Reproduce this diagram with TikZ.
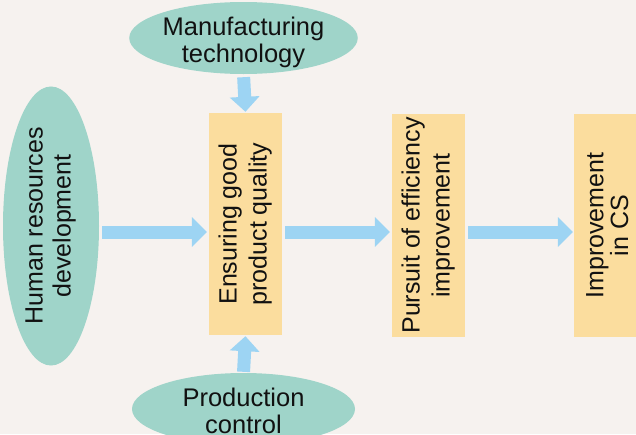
\documentclass[tikz,border=0pt]{standalone}
\usepackage{fontspec}
\setmainfont{Liberation Sans}
\usetikzlibrary{shapes.geometric,arrows.meta}
\definecolor{bgc}{HTML}{F6F2EF}
\definecolor{ellc}{HTML}{9FD4C9}
\definecolor{boxc}{HTML}{FBDD9E}
\definecolor{arrc}{HTML}{9DD4F3}
\definecolor{txtc}{HTML}{111111}
\newcommand{\vtext}[2]{\rotatebox{90}{\fontsize{25}{#1}\selectfont\begin{tabular}{@{}c@{}}#2\end{tabular}}}
\newcommand{\htext}[1]{\raisebox{-12pt}[0pt][0pt]{\fontsize{25.5}{26}\selectfont\begin{tabular}{@{}c@{}}#1\end{tabular}}}
\begin{document}
\begin{tikzpicture}[x=1pt,y=1pt,
  ell/.style={ellipse, fill=ellc, inner sep=0pt, text=txtc},
  hell/.style={ell, minimum width=223pt, minimum height=72pt},
  stagebox/.style={rectangle, fill=boxc, inner sep=0pt, minimum width=73pt, minimum height=222pt, text=txtc},
  blockarrow/.style={draw=arrc, line width=13pt, -{Triangle[length=15pt 0 0,width=29pt 0 0]}}
]
\fill[bgc] (0,0) rectangle (636,-434);
\useasboundingbox (0,0) rectangle (636,-434);

\node[hell] (mt) at (243.5,-38) {\htext{Manufacturing\\technology}};
\node[hell] (pc) at (243.5,-409) {\htext{Production\\control}};
\node[ell, minimum width=96pt, minimum height=222pt] (hr) at (51,-226)
  {\vtext{28}{Human resources\\development}};
\node[stagebox] (b1) at (245.5,-224) {\vtext{30}{Ensuring good\\product quality}};
\node[stagebox, minimum height=223pt] (b2) at (428.5,-225.5) {\vtext{30}{Pursuit of efficiency\\improvement}};
\node[stagebox, minimum height=223pt] (b3) at (610.5,-225.5) {\vtext{22}{Improvement\\in CS}};

\coordinate (row) at (0,-232);
\draw[blockarrow, shorten <=3pt, shorten >=2pt] (hr.east |- row) -- (b1.west |- row);
\draw[blockarrow, shorten <=3pt, shorten >=2pt] (b1.east |- row) -- (b2.west |- row);
\draw[blockarrow, shorten <=3pt, shorten >=1pt] (b2.east |- row) -- (b3.west |- row);
\draw[blockarrow, shorten <=3pt, shorten >=1pt] (mt.south) -- (b1.north);
\draw[blockarrow, shorten <=1pt, shorten >=1pt] (pc.north) -- (b1.south);
\end{tikzpicture}
\end{document}
